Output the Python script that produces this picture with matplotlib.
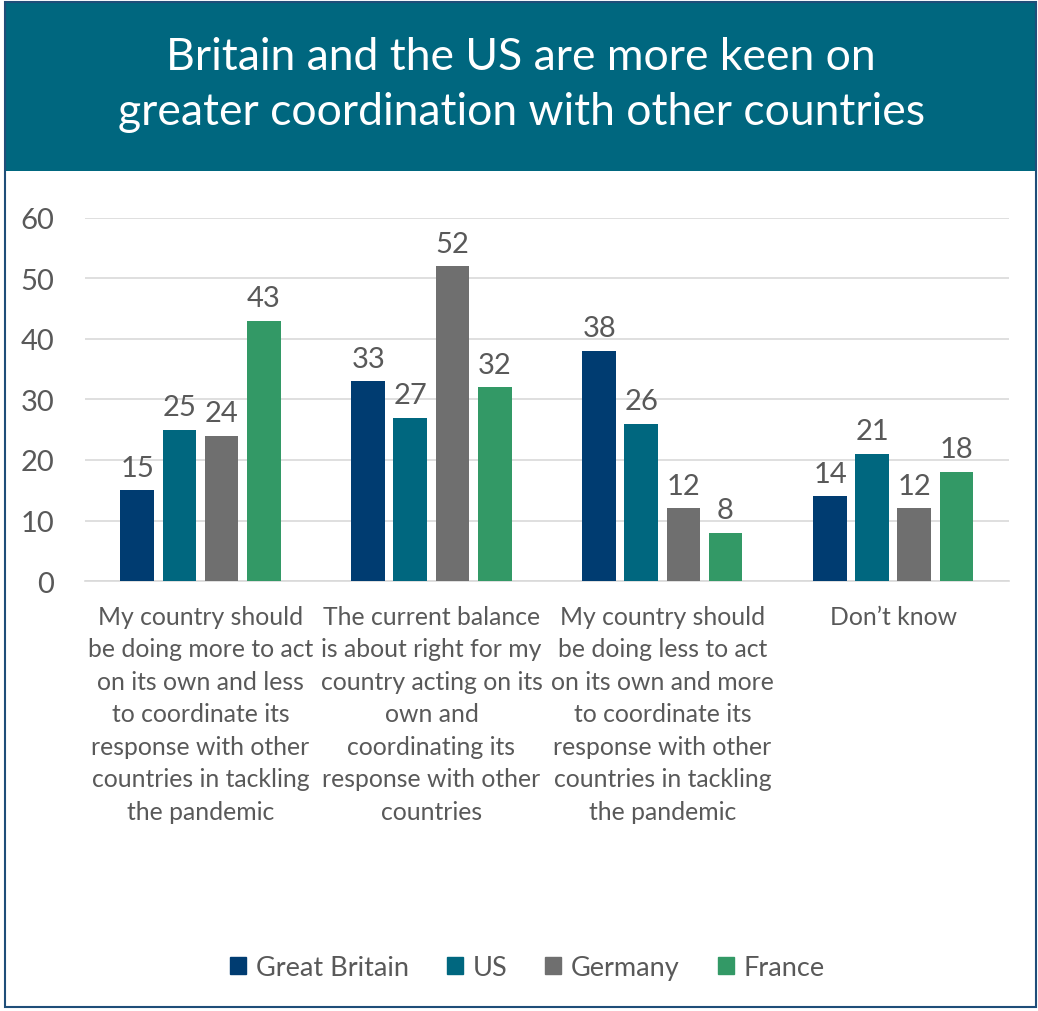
import matplotlib.pyplot as plt
from matplotlib.patches import Rectangle, Patch
import numpy as np

plt.rcParams['font.family'] = ['Lato', 'DejaVu Sans']

categories = [
    "My country should\nbe doing more to act\non its own and less\nto coordinate its\nresponse with other\ncountries in tackling\nthe pandemic",
    "The current balance\nis about right for my\ncountry acting on its\nown and\ncoordinating its\nresponse with other\ncountries",
    "My country should\nbe doing less to act\non its own and more\nto coordinate its\nresponse with other\ncountries in tackling\nthe pandemic",
    "Don\u2019t know",
]
series = ["Great Britain", "US", "Germany", "France"]
great_britain = [15, 33, 38, 14]
us = [25, 27, 26, 21]
germany = [24, 52, 12, 12]
france = [43, 32, 8, 18]

colors = ["#003C71", "#00677F", "#6F6F6F", "#339966"]
text_col = "#595959"

fig = plt.figure(figsize=(10.38, 10.12), dpi=100)

# header band and outer frame
fig.patches.append(Rectangle((0.005, 0.83), 0.993, 0.167, transform=fig.transFigure,
                             facecolor="#00677F", edgecolor="none", zorder=0))
fig.patches.append(Rectangle((0.005, 0.004), 0.993, 0.993, transform=fig.transFigure,
                             facecolor="none", edgecolor="#1F4E79", lw=1.5, zorder=5))
fig.text(0.502, 0.916, "Britain and the US are more keen on\ngreater coordination with other countries",
         ha="center", va="center", color="white", fontsize=32, linespacing=1.45)

ax = fig.add_axes([0.0819, 0.4249, 0.8901, 0.3587])
x = np.arange(len(categories))
pitch = 0.182
width = 0.147
for i, (name, vals) in enumerate(zip(series, [great_britain, us, germany, france])):
    pos = x + (i - 1.5) * pitch
    bars = ax.bar(pos, vals, width, color=colors[i], label=name, zorder=3)
    for b, v in zip(bars, vals):
        ax.text(b.get_x() + b.get_width() / 2, v + 1.6, str(v), ha="center", va="bottom",
                fontsize=21, color=text_col)

ax.set_xlim(-0.5, 3.5)
ax.set_ylim(0, 60)
ax.set_yticks(range(0, 61, 10))
ax.yaxis.grid(True, color="#D9D9D9", lw=1.2, zorder=0)
ax.set_axisbelow(True)
for s in ["top", "right", "left"]:
    ax.spines[s].set_visible(False)
ax.spines["bottom"].set_color("#D9D9D9")
ax.spines["bottom"].set_linewidth(1.2)
ax.tick_params(axis="y", length=0, pad=22, labelsize=21, labelcolor=text_col)
ax.tick_params(axis="x", length=0, pad=17, labelsize=17.8, labelcolor=text_col)
ax.set_xticks(x)
ax.set_xticklabels(categories, linespacing=1.5, va="top")

handles = [Patch(color=c, label=n) for c, n in zip(colors, series)]
fig.legend(handles=handles, loc="center", bbox_to_anchor=(0.508, 0.043), ncol=4, frameon=False,
           fontsize=19.5, labelcolor=text_col, handlelength=0.6, handleheight=0.6,
           handletextpad=0.35, columnspacing=1.4)

fig.savefig("out.png", dpi=100)
